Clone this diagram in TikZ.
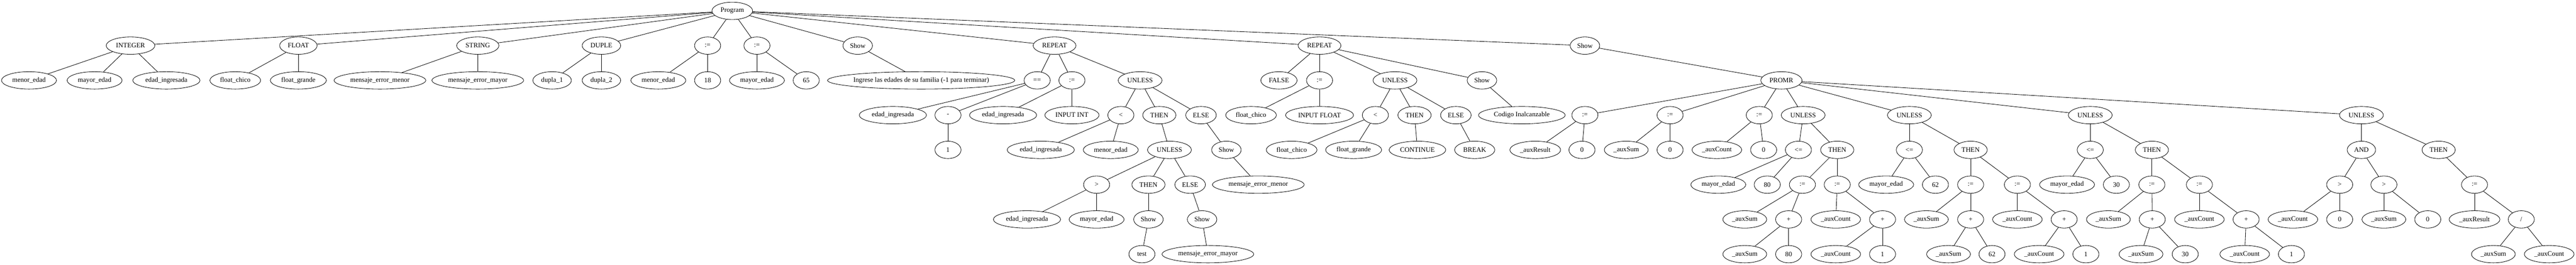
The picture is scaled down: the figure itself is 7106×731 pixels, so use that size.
\documentclass[tikz,border=0pt]{standalone}
\usepackage{fontspec}
\setmainfont{Liberation Serif}
\usetikzlibrary{shapes.geometric}
\tikzset{
  n/.style={draw, ellipse, line width=1.2pt, minimum width=72pt, minimum height=48pt,
    inner xsep=7.5pt, inner ysep=2pt, font=\fontsize{18.67}{22}\selectfont},
  edge/.style={line width=1.2pt}
}
\begin{document}
\begin{tikzpicture}[x=1pt,y=-1pt]
\useasboundingbox (0,0) rectangle (7106,731);
% Level 0
\node[n] (prog) at (2020,30) {Program};
% Level 1
\def\ya{126}
\node[n] (int) at (360,\ya) {INTEGER};
\node[n] (flt) at (823,\ya) {FLOAT};
\node[n] (str) at (1318,\ya) {STRING};
\node[n] (dup) at (1659,\ya) {DUPLE};
\node[n] (as1) at (1952,\ya) {:=};
\node[n] (as2) at (2088,\ya) {:=};
\node[n] (sh1) at (2366,\ya) {Show};
\node[n] (rep1) at (2909,\ya) {REPEAT};
\node[n] (rep2) at (3640,\ya) {REPEAT};
\node[n] (sh2) at (4372,\ya) {Show};
% Level 2
\def\yb{222}
\node[n] (i1) at (80,\yb) {menor\_edad};
\node[n] (i2) at (261,\yb) {mayor\_edad};
\node[n] (i3) at (459,\yb) {edad\_ingresada};
\node[n] (f1) at (649,\yb) {float\_chico};
\node[n] (f2) at (823,\yb) {float\_grande};
\node[n] (s1) at (1048,\yb) {mensaje\_error\_menor};
\node[n] (s2) at (1318,\yb) {mensaje\_error\_mayor};
\node[n] (d1) at (1523,\yb) {dupla\_1};
\node[n] (d2) at (1659,\yb) {dupla\_2};
\node[n] (a1) at (1816,\yb) {menor\_edad};
\node[n] (a2) at (1952,\yb) {18};
\node[n] (b1) at (2088,\yb) {mayor\_edad};
\node[n] (b2) at (2224,\yb) {65};
\node[n, inner xsep=-4.5pt] (t1) at (2541,\yb) {Ingrese las edades de su familia (-1 para terminar)};
\node[n] (eq) at (2861,\yb) {==};
\node[n] (ra) at (2957,\yb) {:=};
\node[n] (ru) at (3145,\yb) {UNLESS};
\node[n] (fa) at (3528,\yb) {FALSE};
\node[n] (qa) at (3640,\yb) {:=};
\node[n] (qu) at (3848,\yb) {UNLESS};
\node[n] (qs) at (4088,\yb) {Show};
\node[n] (pr) at (4914,\yb) {PROMR};
% Level 3
\def\yc{318}
\node[n] (e1) at (2463,\yc) {edad\_ingresada};
\node[n] (neg) at (2615,\yc) {-};
\node[n] (r1) at (2767,\yc) {edad\_ingresada};
\node[n] (r2) at (2957,\yc) {INPUT INT};
\node[n] (lt) at (3092,\yc) {<};
\node[n] (th) at (3198,\yc) {THEN};
\node[n] (el) at (3313,\yc) {ELSE};
\node[n] (q1) at (3451,\yc) {float\_chico};
\node[n] (q2) at (3640,\yc) {INPUT FLOAT};
\node[n] (qlt) at (3794,\yc) {<};
\node[n] (qth) at (3902,\yc) {THEN};
\node[n] (qel) at (4016,\yc) {ELSE};
\node[n] (ci) at (4198,\yc) {Codigo Inalcanzable};
\node[n] (pa1) at (4372,\yc) {:=};
\node[n] (pa2) at (4607,\yc) {:=};
\node[n] (pa3) at (4853,\yc) {:=};
\node[n] (u1) at (4974,\yc) {UNLESS};
\node[n] (u2) at (5267,\yc) {UNLESS};
\node[n] (u3) at (5766,\yc) {UNLESS};
\node[n] (u4) at (6514,\yc) {UNLESS};
% Level 4
\def\yd{414}
\node[n] (one) at (2615,\yd) {1};
\node[n] (lt1) at (2871,\yd) {edad\_ingresada};
\node[n] (lt2) at (3064,\yd) {menor\_edad};
\node[n] (iu) at (3226,\yd) {UNLESS};
\node[n] (es) at (3383,\yd) {Show};
\node[n] (ql1) at (3563,\yd) {float\_chico};
\node[n] (ql2) at (3734,\yd) {float\_grande};
\node[n] (cont) at (3910,\yd) {CONTINUE};
\node[n] (brk) at (4068,\yd) {BREAK};
\node[n] (p11) at (4235,\yd) {\_auxResult};
\node[n] (p12) at (4364,\yd) {0};
\node[n] (p21) at (4486,\yd) {\_auxSum};
\node[n] (p22) at (4607,\yd) {0};
\node[n] (p31) at (4736,\yd) {\_auxCount};
\node[n] (p32) at (4865,\yd) {0};
\node[n] (u1c) at (4961,\yd) {<=};
\node[n] (u1t) at (5068,\yd) {THEN};
\node[n] (u2c) at (5267,\yd) {<=};
\node[n] (u2t) at (5436,\yd) {THEN};
\node[n] (u3c) at (5766,\yd) {<=};
\node[n] (u3t) at (5936,\yd) {THEN};
\node[n] (and) at (6514,\yd) {AND};
\node[n] (u4t) at (6727,\yd) {THEN};
% Level 5
\def\ye{510}
\node[n] (gt) at (3025,\ye) {>};
\node[n] (ith) at (3168,\ye) {THEN};
\node[n] (iel) at (3283,\ye) {ELSE};
\node[n] (emn) at (3471,\ye) {mensaje\_error\_menor};
\node[n] (u1c1) at (4740,\ye) {mayor\_edad};
\node[n] (u1c2) at (4875,\ye) {80};
\node[n] (u1a) at (4972,\ye) {:=};
\node[n] (u1b) at (5068,\ye) {:=};
\node[n] (u2c1) at (5203,\ye) {mayor\_edad};
\node[n] (u2c2) at (5339,\ye) {62};
\node[n] (u2a) at (5436,\ye) {:=};
\node[n] (u2b) at (5565,\ye) {:=};
\node[n] (u3c1) at (5702,\ye) {mayor\_edad};
\node[n] (u3c2) at (5838,\ye) {30};
\node[n] (u3a) at (5936,\ye) {:=};
\node[n] (u3b) at (6067,\ye) {:=};
\node[n] (g1) at (6454,\ye) {>};
\node[n] (g2) at (6576,\ye) {>};
\node[n] (u4a) at (6826,\ye) {:=};
% Level 6
\def\yf{606}
\node[n] (gt1) at (2833,\yf) {edad\_ingresada};
\node[n] (gt2) at (3025,\yf) {mayor\_edad};
\node[n] (ish) at (3168,\yf) {Show};
\node[n] (esh) at (3316,\yf) {Show};
\node[n] (u1a1) at (4813,\yf) {\_auxSum};
\node[n] (u1a2) at (4934,\yf) {+};
\node[n] (u1b1) at (5064,\yf) {\_auxCount};
\node[n] (u1b2) at (5193,\yf) {+};
\node[n] (u2a1) at (5314,\yf) {\_auxSum};
\node[n] (u2a2) at (5436,\yf) {+};
\node[n] (u2b1) at (5565,\yf) {\_auxCount};
\node[n] (u2b2) at (5694,\yf) {+};
\node[n] (u3a1) at (5816,\yf) {\_auxSum};
\node[n] (u3a2) at (5937,\yf) {+};
\node[n] (u3b1) at (6067,\yf) {\_auxCount};
\node[n] (u3b2) at (6196,\yf) {+};
\node[n] (g11) at (6325,\yf) {\_auxCount};
\node[n] (g12) at (6454,\yf) {0};
\node[n] (g21) at (6576,\yf) {\_auxSum};
\node[n] (g22) at (6697,\yf) {0};
\node[n] (u4a1) at (6826,\yf) {\_auxResult};
\node[n] (div) at (6955,\yf) {/};
% Level 7
\def\yg{702}
\node[n] (test) at (3150,\yg) {test};
\node[n] (emy) at (3332,\yg) {mensaje\_error\_mayor};
\node[n] (v1) at (4813,\yg) {\_auxSum};
\node[n] (v2) at (4934,\yg) {80};
\node[n] (v3) at (5064,\yg) {\_auxCount};
\node[n] (v4) at (5193,\yg) {1};
\node[n] (v5) at (5375,\yg) {\_auxSum};
\node[n] (v6) at (5495,\yg) {62};
\node[n] (v7) at (5625,\yg) {\_auxCount};
\node[n] (v8) at (5754,\yg) {1};
\node[n] (v9) at (5906,\yg) {\_auxSum};
\node[n] (v10) at (6028,\yg) {30};
\node[n] (v11) at (6192,\yg) {\_auxCount};
\node[n] (v12) at (6321,\yg) {1};
\node[n] (v13) at (6878,\yg) {\_auxSum};
\node[n] (v14) at (7032,\yg) {\_auxCount};
% Edges
\foreach \a/\b in {prog/int, prog/flt, prog/str, prog/dup, prog/as1, prog/as2, prog/sh1, prog/rep1, prog/rep2, prog/sh2,
  int/i1, int/i2, int/i3, flt/f1, flt/f2, str/s1, str/s2, dup/d1, dup/d2, as1/a1, as1/a2, as2/b1, as2/b2, sh1/t1,
  rep1/eq, rep1/ra, rep1/ru, rep2/fa, rep2/qa, rep2/qu, rep2/qs, sh2/pr,
  eq/e1, eq/neg, ra/r1, ra/r2, ru/lt, ru/th, ru/el, qa/q1, qa/q2, qu/qlt, qu/qth, qu/qel, qs/ci,
  pr/pa1, pr/pa2, pr/pa3, pr/u1, pr/u2, pr/u3, pr/u4,
  neg/one, lt/lt1, lt/lt2, th/iu, el/es, qlt/ql1, qlt/ql2, qth/cont, qel/brk,
  pa1/p11, pa1/p12, pa2/p21, pa2/p22, pa3/p31, pa3/p32,
  u1/u1c, u1/u1t, u2/u2c, u2/u2t, u3/u3c, u3/u3t, u4/and, u4/u4t,
  iu/gt, iu/ith, iu/iel, es/emn,
  u1c/u1c1, u1c/u1c2, u1t/u1a, u1t/u1b, u2c/u2c1, u2c/u2c2, u2t/u2a, u2t/u2b,
  u3c/u3c1, u3c/u3c2, u3t/u3a, u3t/u3b, and/g1, and/g2, u4t/u4a,
  gt/gt1, gt/gt2, ith/ish, iel/esh,
  u1a/u1a1, u1a/u1a2, u1b/u1b1, u1b/u1b2, u2a/u2a1, u2a/u2a2, u2b/u2b1, u2b/u2b2,
  u3a/u3a1, u3a/u3a2, u3b/u3b1, u3b/u3b2, g1/g11, g1/g12, g2/g21, g2/g22, u4a/u4a1, u4a/div,
  ish/test, esh/emy, u1a2/v1, u1a2/v2, u1b2/v3, u1b2/v4, u2a2/v5, u2a2/v6, u2b2/v7, u2b2/v8,
  u3a2/v9, u3a2/v10, u3b2/v11, u3b2/v12, div/v13, div/v14}
  \draw[edge] (\a) -- (\b);
\end{tikzpicture}
\end{document}
